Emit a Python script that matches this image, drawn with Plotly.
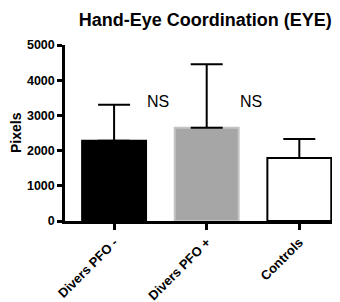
import plotly.graph_objects as go

categories = ["Divers PFO -", "Divers PFO +", "Controls"]
means = [2280, 2650, 1790]
sd_upper = [1020, 1800, 540]
ns_labels = ["NS", "NS"]
ns_positions = ["Divers PFO -", "Divers PFO +"]
y_ticks = [0, 1000, 2000, 3000, 4000, 5000]

fill_colors = ["#000000", "#a6a6a6", "#ffffff"]
line_colors = ["#000000", "#c4c4c4", "#000000"]

FONT = "Liberation Sans, Arial"

fig = go.Figure()
fig.add_trace(go.Bar(
    x=categories, y=means, width=0.69,
    marker=dict(color=fill_colors, line=dict(color=line_colors, width=2)),
    error_y=dict(type="data", symmetric=False, array=sd_upper,
                 arrayminus=[0, 0, 0], color="black", thickness=2, width=16),
))

for lab, cat in zip(ns_labels, ns_positions):
    fig.add_annotation(x=cat, y=3400, text=lab, showarrow=False,
                       xshift=44, font=dict(size=16, color="black", family=FONT))

fig.add_annotation(x=0, xref="paper", xshift=-49, xanchor="center",
                   y=0.5, yref="paper", yanchor="middle", textangle=-90,
                   text="<b>Pixels</b>", showarrow=False,
                   font=dict(size=14, color="black", family=FONT))

fig.update_layout(
    width=340, height=302,
    margin=dict(l=57, r=7, t=37, b=81),
    paper_bgcolor="white", plot_bgcolor="white",
    showlegend=False,
    title=dict(text="<b>Hand-Eye Coordination (EYE)</b>", x=0.58, xanchor="center",
               xref="container", y=0.96, yanchor="middle", yref="container",
               font=dict(size=18, color="black", family=FONT)),
    font=dict(family=FONT, color="black"),
)
fig.update_xaxes(
    type="category", range=[-0.53, 2.45],
    tickvals=categories, ticktext=["<b>%s</b>" % c for c in categories],
    showline=True, linewidth=2.5, linecolor="black",
    ticks="outside", ticklen=6, tickwidth=2.5, tickcolor="black",
    tickangle=-45, tickfont=dict(size=13, family=FONT),
    showgrid=False, zeroline=False,
)
fig.update_yaxes(
    range=[0, 5000], automargin=False,
    tickvals=y_ticks, ticktext=["<b>%d</b>" % v for v in y_ticks],
    showline=True, linewidth=2.5, linecolor="black",
    ticks="outside", ticklen=5, tickwidth=2.5, tickcolor="black",
    tickfont=dict(size=12.5, family=FONT),
    showgrid=False, zeroline=False,
)

fig.write_html("out.html")
